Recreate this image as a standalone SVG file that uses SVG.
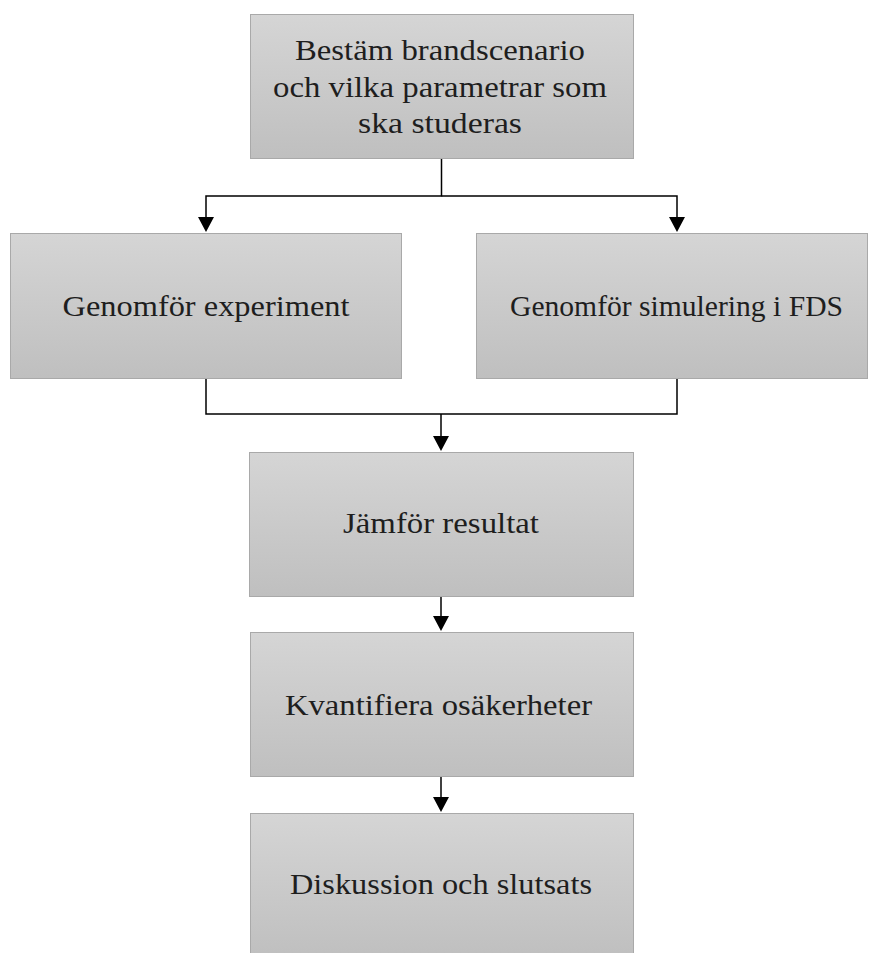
<svg xmlns="http://www.w3.org/2000/svg" width="870" height="953" viewBox="0 0 870 953">
<defs>
<linearGradient id="g" x1="0" y1="0" x2="0" y2="1">
<stop offset="0" stop-color="#d5d5d5"/>
<stop offset="1" stop-color="#bfbfbf"/>
</linearGradient>
<marker id="ah" markerUnits="userSpaceOnUse" markerWidth="16" markerHeight="16" viewBox="0 0 16 16" refX="8" refY="15" orient="auto-start-reverse">
<path d="M0,0 L16,0 L8,15 Z" fill="#000"/>
</marker>
</defs>
<style>
.box{fill:url(#g);stroke:#a9a9a9;stroke-width:1}
.t{font-family:"Liberation Serif","Times New Roman",serif;font-size:29px;fill:#1e1e1e;text-anchor:middle}
.c{fill:none;stroke:#000;stroke-width:1.5}
</style>
<rect width="870" height="953" fill="#fff"/>
<g id="connectors">
<path class="c" d="M441.5,159 V196 H206 V217"/>
<path class="c" d="M441.5,196 H677 V217"/>
<path d="M198,217 L214,217 L206,232 Z"/>
<path d="M669,217 L685,217 L677,232 Z"/>
<path class="c" d="M206,379 V414 H677 V379"/>
<path class="c" d="M441,414 V436"/>
<path d="M433,436 L449,436 L441,451 Z"/>
<path class="c" d="M441,596 V616"/>
<path d="M433,616 L449,616 L441,631 Z"/>
<path class="c" d="M441,777 V797"/>
<path d="M433,797 L449,797 L441,812 Z"/>
</g>
<g id="n1">
<rect class="box" x="250.5" y="14.5" width="383" height="144"/>
<text class="t" x="440" y="60" textLength="290" lengthAdjust="spacingAndGlyphs">Bestäm brandscenario</text>
<text class="t" x="440" y="97" textLength="334" lengthAdjust="spacingAndGlyphs">och vilka parametrar som</text>
<text class="t" x="440" y="133" textLength="164" lengthAdjust="spacingAndGlyphs">ska studeras</text>
</g>
<g id="n2">
<rect class="box" x="10.5" y="233.5" width="391" height="145"/>
<text class="t" x="206" y="316" textLength="287" lengthAdjust="spacingAndGlyphs">Genomför experiment</text>
</g>
<g id="n3">
<rect class="box" x="476.5" y="233.5" width="391" height="145"/>
<text class="t" x="676.5" y="316" textLength="333" lengthAdjust="spacingAndGlyphs">Genomför simulering i FDS</text>
</g>
<g id="n4">
<rect class="box" x="249.5" y="452.5" width="384" height="144"/>
<text class="t" x="441" y="533" textLength="196" lengthAdjust="spacingAndGlyphs">Jämför resultat</text>
</g>
<g id="n5">
<rect class="box" x="250.5" y="632.5" width="383" height="144"/>
<text class="t" x="438.5" y="715" textLength="307" lengthAdjust="spacingAndGlyphs">Kvantifiera osäkerheter</text>
</g>
<g id="n6">
<rect class="box" x="250.5" y="813.5" width="383" height="145"/>
<text class="t" x="441" y="894" textLength="302" lengthAdjust="spacingAndGlyphs">Diskussion och slutsats</text>
</g>
</svg>
